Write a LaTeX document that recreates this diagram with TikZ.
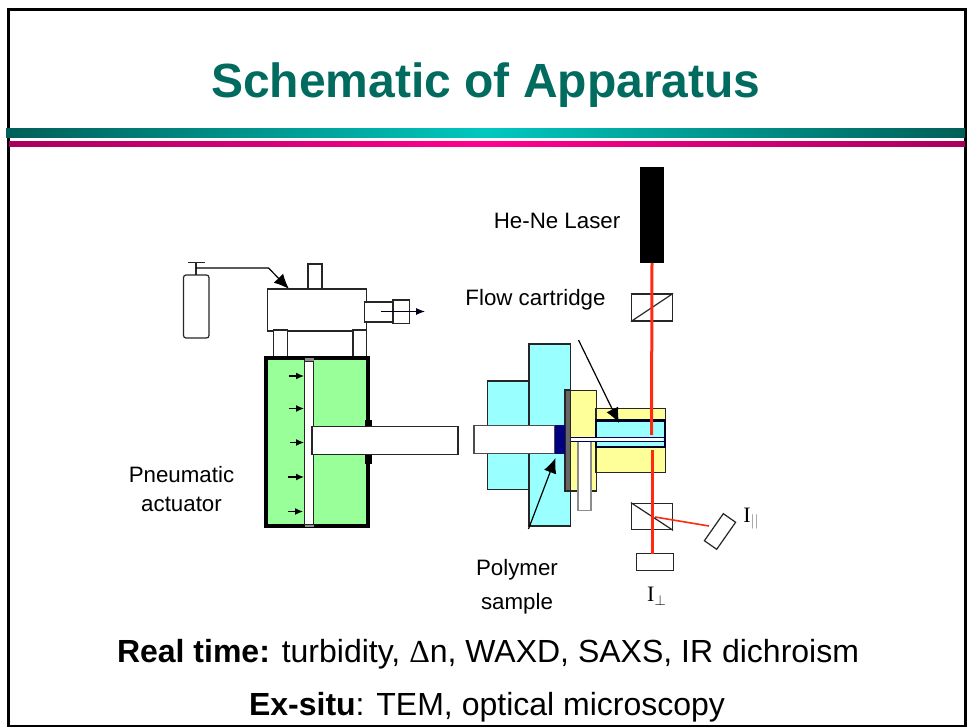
\documentclass[tikz,border=0pt]{standalone}
\usepackage{fontspec}
\setmainfont{Liberation Sans}
\newfontfamily\serifone{Liberation Serif}
\usetikzlibrary{arrows.meta}
\definecolor{ttl}{HTML}{006B5E}
\definecolor{tealA}{HTML}{005F58}
\definecolor{tealB}{HTML}{00C8C0}
\definecolor{pinkA}{HTML}{A8005E}
\definecolor{pinkB}{HTML}{FF0090}
\definecolor{grn}{HTML}{99FF99}
\definecolor{cyn}{HTML}{99FFFF}
\definecolor{yel}{HTML}{FFFF99}
\definecolor{las}{HTML}{FF2A10}
\definecolor{navy}{HTML}{000080}
\tikzset{
  x=1pt,y=-1pt,
  ln/.style={draw=black!85,line width=1.2pt},
  whitebox/.style={ln,fill=white},
  lbl/.style={inner sep=0pt,font=\fontsize{22.3}{26}\selectfont,align=center},
  beam/.style={draw=las,line width=3pt},
  pusharrow/.style={-{Latex[length=8pt,width=7pt]},line width=1.2pt},
  bigarrow/.style={-{Latex[length=15pt,width=13pt]},line width=1.2pt}
}
\begin{document}
\begin{tikzpicture}
\useasboundingbox (0,0) rectangle (967,727);
% frame
\draw[line width=2.2pt] (8.5,726) |- (965.5,9.5) -- (965.5,726) -- cycle;
% title
\node[inner sep=0pt,text=ttl,font=\bfseries\fontsize{48}{56}\selectfont] (title) at (486,85) {Schematic of Apparatus};
% rules
\shade[left color=tealA,right color=tealB] (6,129) rectangle (487,138);
\shade[left color=tealB,right color=tealA] (487,129) rectangle (965,138);
\shade[left color=pinkA,right color=pinkB] (9,142) rectangle (487,147);
\shade[left color=pinkB,right color=pinkA] (487,142) rectangle (965,147);
% laser
\node[fill=black,minimum width=24pt,minimum height=96pt,inner sep=0pt] (laser) at (652,215) {};
\node[lbl,anchor=east] (hene) at (620.5,220.5) {He-Ne Laser};
% gas bottle
\draw[ln,rounded corners=2.5pt,fill=white] (183.5,275) rectangle (209,338);
\coordinate (valve) at (196,275);
\coordinate (valvetop) at (196,262.5);
\draw[ln] (valve) -- (valvetop);
\draw[ln] (187.5,262.5) -- (204.5,262.5);
\coordinate (pipeA) at (196,268);
\coordinate (pipeB) at (268.5,268);
\coordinate (headin) at (289,289);
\draw[bigarrow] (pipeA) -- (pipeB) -- (headin);
% head
\node[whitebox,minimum width=14pt,minimum height=26pt,inner sep=0pt] (stem) at (315,277) {};
\node[whitebox,minimum width=99pt,minimum height=42pt,inner sep=0pt] (head) at (317,310) {};
\draw[whitebox] (364.5,302) rectangle (394,322);
\draw[whitebox] (393,300) rectangle (409.5,323.5);
\coordinate (outA) at (381,311.5);
\coordinate (outB) at (425,311.5);
\draw[-{Latex[length=9pt,width=7pt]},line width=1pt,draw=black!90!blue] (outA) -- (outB);
\draw[whitebox] (273.5,330) rectangle (287.5,357);
\draw[whitebox] (353,330) rectangle (366.5,357);
% cylinder
\node[draw=black,fill=grn,line width=4.6pt,minimum width=102pt,minimum height=168pt,inner sep=0pt] (cyl) at (317,442) {};
\fill[black] (365,420) rectangle (371.5,464);
\fill[grn] (314,361) rectangle (365,524);
% piston
\draw[ln,fill=white] (304.5,361) rectangle (313.5,524.5);
\fill[black!45] (304.5,358) rectangle (313.5,361);
\fill[black!45] (304.5,524.5) rectangle (313.5,527);
% rod
\node[whitebox,minimum width=146pt,minimum height=27.5pt,inner sep=0pt] (rod) at (385,440.5) {};
% push arrows
\foreach \a/\b/\y in {289/304/376,289/304/408.5,290/304/442.5,288/304/477,288/303/511.5}
  \draw[pusharrow] (\a,\y) -- (\b,\y);
% cyan blocks
\draw[ln,fill=cyn] (487.5,381) rectangle (530,489.5);
\draw[ln,fill=cyn] (529,344) rectangle (570.5,526);
% yellow blocks
\draw[ln,fill=yel] (570,390.5) rectangle (596.5,491);
\draw[line width=1.2pt,draw=black!45,fill=white] (578,441) rectangle (591,510.5);
\draw[ln,fill=yel] (596,408.5) rectangle (665.5,472.5);
% plate
\draw[ln,fill=black!60] (565,390) rectangle (570.5,491);
% sample and ram
\draw[ln,draw=black!70,fill=white] (474,425.5) rectangle (555,453.5);
\fill[navy] (554.5,425) rectangle (565,454);
% cartridge
\draw[draw=black!85!blue,line width=2.2pt,fill=cyn] (596,420.5) rectangle (665,447);
\fill[white] (571,437.5) rectangle (663,441);
\draw[draw=navy!70!black,line width=.9pt] (571,437) -- (663.5,437) (571,441.5) -- (663.5,441.5);
% polarizer
\node[whitebox,minimum width=41pt,minimum height=27pt,inner sep=0pt] (pol) at (652,307.5) {};
\draw[ln] (pol.south west) -- (pol.north east);
% analyzer
\node[whitebox,minimum width=41pt,minimum height=26.5pt,inner sep=0pt] (ana) at (652,516.5) {};
\draw[ln] (ana.north west) -- (ana.south east);
% detectors
\node[whitebox,minimum width=37pt,minimum height=17pt,inner sep=0pt] (dperp) at (655,562) {};
\node[whitebox,rotate=55,minimum width=33pt,minimum height=15pt,inner sep=0pt] (dpar) at (720,531.5) {};
% beam
\draw[beam] (laser.south) -- (651.5,435);
\draw[beam] (652.5,450) -- (652.5,554);
\coordinate (split) at (655,517);
\draw[draw=las,line width=1.6pt] (split) -- (709,526);
% pointers
\node[lbl] (fc) at (535.5,300) {Flow cartridge};
\draw[bigarrow] (578.5,340) -- (619,423);
\node[lbl] (ps) at (517,587) {Polymer\\[8pt]sample};
\draw[bigarrow] (528.5,529) -- (555.5,458);
\node[lbl] (pa) at (181.5,489.5) {Pneumatic\\[3pt]actuator};
\node[inner sep=0pt,font=\serifone\fontsize{22}{26}\selectfont] (ipar) at (751,519) {I\raisebox{-3pt}{\fontsize{15}{16}\selectfont\color{black!60}$||$}};
\node[inner sep=0pt,font=\serifone\fontsize{22}{26}\selectfont] (iperp) at (656.5,596) {I\raisebox{-4pt}{\fontsize{15}{16}\selectfont$\perp$}};
% bottom text
\node[inner sep=0pt,font=\fontsize{32}{37}\selectfont] (t1) at (488,654) {\textbf{Real time:} turbidity, {\serifone Δ}n, WAXD, SAXS, IR dichroism};
\node[inner sep=0pt,font=\fontsize{32}{37}\selectfont] (t2) at (487,707) {\textbf{Ex-situ}: TEM, optical microscopy};
\end{tikzpicture}
\end{document}
